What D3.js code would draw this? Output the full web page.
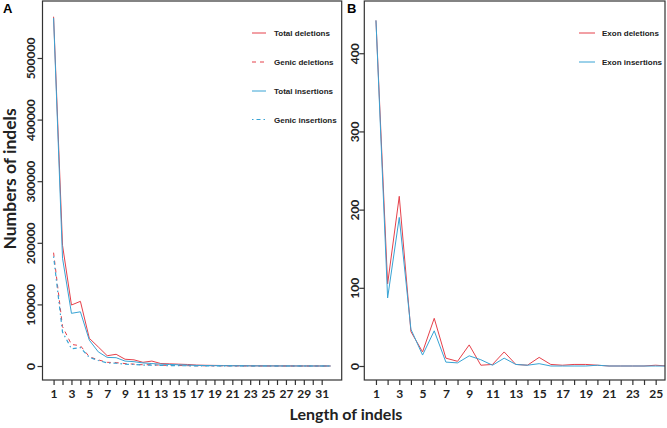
<!DOCTYPE html>
<html><head><meta charset="utf-8">
<script src="https://cdn.jsdelivr.net/npm/d3@7"></script>
<style>body{margin:0;background:#fff}svg{display:block}</style>
</head><body>
<svg id="c" width="667" height="428"></svg>
<script>
// Panel A data (length 1..32)
const lengthsA = d3.range(1, 33);
const totalDeletions   = [567000,196000,99000,105000,45000,31000,16700,19000,11000,10000,6000,8000,4000,3500,3000,2500,1500,1200,1000,800,600,500,400,300,250,200,150,120,100,80,60,50];
const genicDeletions   = [184000,64000,35000,33000,15000,10000,6000,5500,4000,3000,2000,2200,1200,1000,800,600,400,300,250,200,150,120,100,80,60,50,40,30,25,20,15,10];
const totalInsertions  = [565000,175000,85500,88000,42000,23000,14000,13500,8000,7000,5000,4000,3000,2500,2000,1500,1000,800,600,500,400,300,250,200,150,120,100,80,60,50,40,30];
const genicInsertions  = [178000,55000,28000,30000,14000,9000,5000,4500,3000,2500,1600,1500,900,700,500,400,300,200,150,120,100,80,60,50,40,30,25,20,15,10,8,5];
const yTicksA = [0,100000,200000,300000,400000,500000];
const xTicksA = d3.range(1, 32);

// Panel B data (length 1..26)
const lengthsB = d3.range(1, 27);
const exonDeletions  = [442,105,217,44,18,61,10,6,27,1,2,18,2,1,11,2,1,2,2,1,0,0,0,0,1,0];
const exonInsertions = [442,87,190,47,14,45,5,4,13,8,1,10,2,1,3,0,0,0,0,1,0,0,0,0,0,0];
const yTicksB = [0,100,200,300,400];
const xTicksB = d3.range(1, 26);

const RED = "#e5404a", BLUE = "#38a3d4";
const svg = d3.select("#c");
const tickFont = "Lato, 'Open Sans', sans-serif";

function panel(opt){
  const g = svg.append("g");
  const x = d3.scaleLinear().domain(opt.xDomain).range([opt.left, opt.right]);
  const y = d3.scaleLinear().domain(opt.yDomain).range([opt.bottom, opt.top]);
  const cid = "clip"+opt.name;
  svg.append("clipPath").attr("id", cid).append("rect")
    .attr("x", opt.left).attr("y", opt.top).attr("width", opt.right-opt.left).attr("height", opt.bottom-opt.top);
  // series
  opt.series.forEach(s => {
    const line = d3.line().x((d,i)=>x(opt.xs[i])).y(d=>y(d));
    g.append("path").attr("d", line(s.values)).attr("fill","none")
      .attr("stroke", s.color).attr("stroke-width", s.width || 1)
      .attr("stroke-dasharray", s.dash || null)
      .attr("clip-path", `url(#${cid})`);
  });
  // box
  g.append("rect").attr("x", opt.left).attr("y", opt.top)
    .attr("width", opt.right-opt.left).attr("height", opt.bottom-opt.top)
    .attr("fill","none").attr("stroke","#333").attr("stroke-width",1.2);
  // x axis
  const xa = g.append("g").attr("transform", `translate(0,${opt.bottom})`)
    .call(d3.axisBottom(x).tickValues(opt.xTicks).tickSize(5).tickPadding(4)
      .tickFormat(d => d % 2 === 1 ? d : ""));
  xa.select(".domain").remove();
  xa.selectAll("line").attr("stroke","#333").attr("stroke-width",1.2);
  xa.selectAll("text").attr("font-family", tickFont).attr("font-weight","bold")
    .attr("font-size","12px").attr("fill","#222");
  // y axis
  const ya = g.append("g").attr("transform", `translate(${opt.left},0)`)
    .call(d3.axisLeft(y).tickValues(opt.yTicks).tickSize(5).tickFormat(d=>String(d)));
  ya.select(".domain").remove();
  ya.selectAll("line").attr("stroke","#333").attr("stroke-width",1.2);
  ya.selectAll("text")
    .attr("font-family", tickFont).attr("font-weight","bold").attr("font-size","12px").attr("fill","#222")
    .attr("text-anchor","middle").attr("dy","0")
    .attr("x", 0).attr("y", 0)
    .attr("transform", `translate(${opt.labelX - opt.left},0) rotate(-90) translate(0,4)`);
  // panel letter
  g.append("text").attr("x", opt.letterX).attr("y", 13).text(opt.name)
    .attr("font-family","'Liberation Sans', Arial, sans-serif").attr("font-weight","bold").attr("font-size","13px");
  // legend
  opt.series.forEach((s,i) => {
    const ly = opt.legendY[i];
    g.append("line").attr("x1", opt.legX1).attr("x2", opt.legX2).attr("y1", ly).attr("y2", ly)
      .attr("stroke", s.color).attr("stroke-width", s.width || 1).attr("stroke-dasharray", s.dash || null);
    g.append("text").attr("x", opt.legTextX).attr("y", ly+3).text(s.label)
      .attr("font-family","'Liberation Sans', Arial, sans-serif").attr("font-weight","bold")
      .attr("font-size","8px").attr("fill","#222");
  });
}

panel({
  name:"A", xs: lengthsA, xDomain:[1-1.24, 32+1.24], yDomain:[-22700, 592500],
  left:42.5, right:341.7, top:1, bottom:380,
  xTicks: xTicksA, yTicks: yTicksA, labelX: 31, letterX: 3,
  legX1: 252, legX2: 266, legTextX: 274, legendY:[33,62,91,119.5],
  series:[
    {label:"Total deletions", values: totalDeletions, color: RED},
    {label:"Genic deletions", values: genicDeletions, color: RED, dash:"4,4"},
    {label:"Total insertions", values: totalInsertions, color: BLUE},
    {label:"Genic insertions", values: genicInsertions, color: BLUE, dash:"1.5,3,4,3", width:1.2}
  ]
});

panel({
  name:"B", xs: lengthsB, xDomain:[0, 25.8], yDomain:[-17.9, 466.8],
  left:364.3, right:665, top:1, bottom:380,
  xTicks: xTicksB, yTicks: yTicksB, labelX: 355, letterX: 347,
  legX1: 579, legX2: 595, legTextX: 602, legendY:[33,62],
  series:[
    {label:"Exon deletions", values: exonDeletions, color: RED},
    {label:"Exon insertions", values: exonInsertions, color: BLUE}
  ]
});

// axis titles
svg.append("text").attr("transform","translate(16,179) rotate(-90)").attr("text-anchor","middle")
  .attr("font-family", tickFont).attr("font-weight","bold").attr("font-size","17.5px").attr("fill","#222")
  .text("Numbers of indels");
svg.append("text").attr("x", 346).attr("y", 420).attr("text-anchor","middle")
  .attr("font-family", tickFont).attr("font-weight","bold").attr("font-size","16px").attr("fill","#222")
  .text("Length of indels");
</script>
</body></html>
